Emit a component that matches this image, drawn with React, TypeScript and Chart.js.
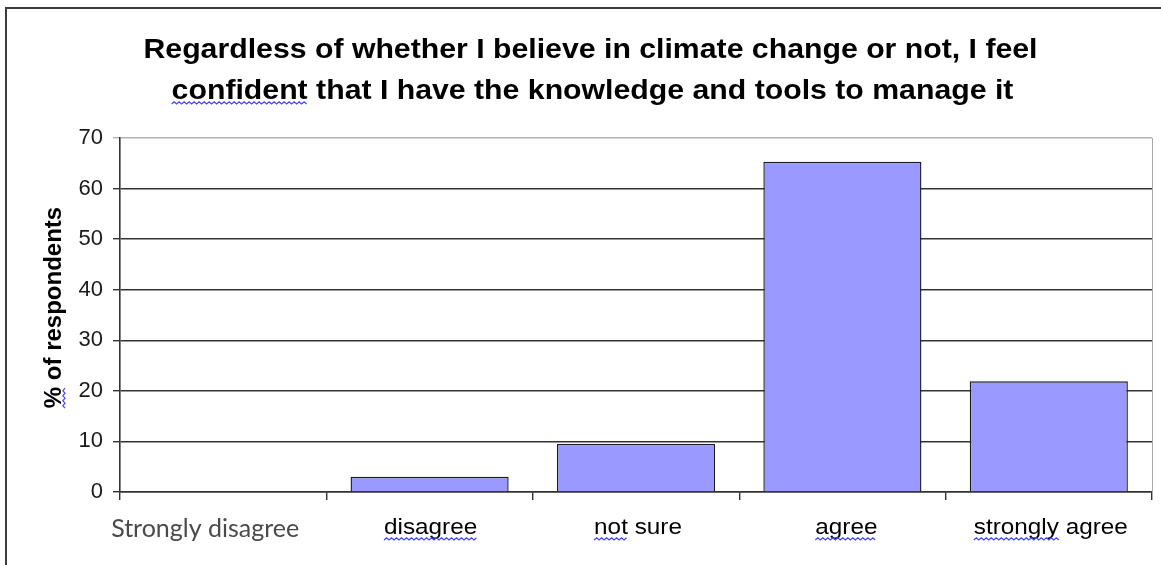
import { useEffect, useRef } from "react";
import { Chart, registerables } from "chart.js";

Chart.register(...registerables);

// Survey question and answers
const titleLines = [
  "Regardless of whether I believe in climate change or not, I feel",
  "confident that I have the knowledge and tools to manage it",
];
const categories = ["Strongly disagree", "disagree", "not sure", "agree", "strongly agree"];
const percentRespondents = [0, 3, 9.5, 65.3, 21.9];
const yAxisTitle = "% of respondents";
const yMin = 0;
const yMax = 70;
const yStep = 10;

// Words carrying the word-processor's wavy proofing underline
const flaggedTitleWord = "confident";
const flaggedYTitleWord = "%";
const flaggedLabelWords = ["", "disagree", "not", "agree", "strongly"];

const W = 1161;
const H = 565;
const ARIAL = '"Liberation Sans", Arial, sans-serif';
const SX = 1.08; // horizontal text stretch of the exported chart
const labelNudge = [-18, 1, 2, 4, 2];

function squiggle(ctx: CanvasRenderingContext2D, x0: number, x1: number, y: number) {
  ctx.save();
  ctx.strokeStyle = "#4545ff";
  ctx.lineWidth = 1.2;
  ctx.beginPath();
  const step = 2.5;
  let up = true;
  ctx.moveTo(x0, y);
  for (let x = x0 + step; x <= x1; x += step) {
    ctx.lineTo(x, up ? y - 2.2 : y);
    up = !up;
  }
  ctx.stroke();
  ctx.restore();
}

function stretchedText(
  ctx: CanvasRenderingContext2D,
  text: string,
  cx: number,
  baseline: number,
  font: string,
  color: string,
  sx: number
) {
  ctx.save();
  ctx.font = font;
  const w = ctx.measureText(text).width * sx;
  const left = cx - w / 2;
  ctx.translate(left, baseline);
  ctx.scale(sx, 1);
  ctx.fillStyle = color;
  ctx.textAlign = "left";
  ctx.textBaseline = "alphabetic";
  ctx.fillText(text, 0, 0);
  ctx.restore();
  return left;
}

function wordWidth(ctx: CanvasRenderingContext2D, word: string, font: string, sx: number) {
  ctx.save();
  ctx.font = font;
  const w = ctx.measureText(word).width * sx;
  ctx.restore();
  return w;
}

const decorPlugin = {
  id: "decor",
  beforeDraw(chart: any) {
    const ctx: CanvasRenderingContext2D = chart.ctx;
    ctx.save();
    ctx.fillStyle = "#ffffff";
    ctx.fillRect(0, 0, W, H);
    // outer frame
    ctx.strokeStyle = "#3c3c3c";
    ctx.lineWidth = 2;
    ctx.strokeRect(6, 8, W + 20, H + 20);
    ctx.restore();
  },
  beforeDatasetsDraw(chart: any) {
    const ctx: CanvasRenderingContext2D = chart.ctx;
    const a = chart.chartArea;
    ctx.save();
    ctx.strokeStyle = "#a8a8a8";
    ctx.lineWidth = 1;
    ctx.beginPath();
    ctx.moveTo(Math.round(a.right) + 0.5, a.top);
    ctx.lineTo(Math.round(a.right) + 0.5, a.bottom);
    ctx.stroke();
    ctx.restore();
  },
  afterDraw(chart: any) {
    const ctx: CanvasRenderingContext2D = chart.ctx;

    // chart title
    const titleFont = `bold 28px ${ARIAL}`;
    stretchedText(ctx, titleLines[0], 590.5, 58, titleFont, "#000", SX);
    const l2 = stretchedText(ctx, titleLines[1], 592.5, 99, titleFont, "#000", SX);
    const cw = wordWidth(ctx, flaggedTitleWord, titleFont, SX);
    squiggle(ctx, l2, l2 + cw, 104);

    // y axis title
    const yFont = `bold 24px ${ARIAL}`;
    ctx.save();
    ctx.font = yFont;
    const yw = ctx.measureText(yAxisTitle).width;
    const pw = ctx.measureText(flaggedYTitleWord).width;
    ctx.translate(61, 307.5);
    ctx.rotate(-Math.PI / 2);
    ctx.fillStyle = "#000";
    ctx.textAlign = "left";
    ctx.textBaseline = "alphabetic";
    ctx.fillText(yAxisTitle, -yw / 2, 0);
    ctx.restore();
    ctx.save();
    ctx.translate(61, 307.5);
    ctx.rotate(-Math.PI / 2);
    squiggle(ctx, -yw / 2, -yw / 2 + pw, 4);
    ctx.restore();

    // category labels
    const xs = chart.scales.x;
    categories.forEach((label, i) => {
      const cx = xs.getPixelForValue(i) + labelNudge[i];
      if (i === 0) {
        stretchedText(ctx, label, cx, 537, `25px Lato, "Open Sans", sans-serif`, "#4a4a4a", 1.0);
      } else {
        const f = `22.5px ${ARIAL}`;
        const left = stretchedText(ctx, label, cx, 534, f, "#000", SX);
        const word = flaggedLabelWords[i];
        if (word) {
          squiggle(ctx, left, left + wordWidth(ctx, word, f, SX), 540);
        }
      }
    });
  },
};

export default function App() {
  const ref = useRef<HTMLCanvasElement | null>(null);

  useEffect(() => {
    if (!ref.current) return;
    const chart = new Chart(ref.current, {
      type: "bar",
      data: {
        labels: categories,
        datasets: [
          {
            data: percentRespondents,
            backgroundColor: "#9999ff",
            borderColor: "#1a1a1a",
            borderWidth: 1.4,
            barPercentage: 0.766,
            categoryPercentage: 1,
          },
        ],
      },
      options: {
        responsive: false,
        animation: false,
        devicePixelRatio: 1,
        layout: { padding: { left: 0, top: 138, right: 9, bottom: 0 } },
        plugins: {
          legend: { display: false },
          title: { display: false },
          tooltip: { enabled: false },
        },
        scales: {
          x: {
            offset: true,
            grid: {
              offset: true,
              drawOnChartArea: false,
              drawTicks: true,
              tickLength: 8,
              color: "#333333",
              lineWidth: 1.4,
            },
            border: { display: true, color: "#333333", width: 1.6 },
            ticks: { display: false },
            afterFit: (s: any) => {
              s.height = 73;
            },
          },
          y: {
            min: yMin,
            max: yMax,
            ticks: {
              stepSize: yStep,
              color: "#1a1a1a",
              padding: 10,
              font: { family: ARIAL, size: 22 },
            },
            grid: {
              color: (c: any) => (c.tick && c.tick.value === yMax ? "#b4b4b4" : "#333333"),
              lineWidth: 1.4,
              tickLength: 7,
            },
            border: { display: true, color: "#333333", width: 1.6 },
            afterFit: (s: any) => {
              s.width = 120;
            },
          },
        },
      },
      plugins: [decorPlugin],
    });
    return () => chart.destroy();
  }, []);

  return (
    <canvas
      ref={ref}
      width={W}
      height={H}
      style={{ position: "fixed", left: 0, top: 0, width: W, height: H }}
    />
  );
}
